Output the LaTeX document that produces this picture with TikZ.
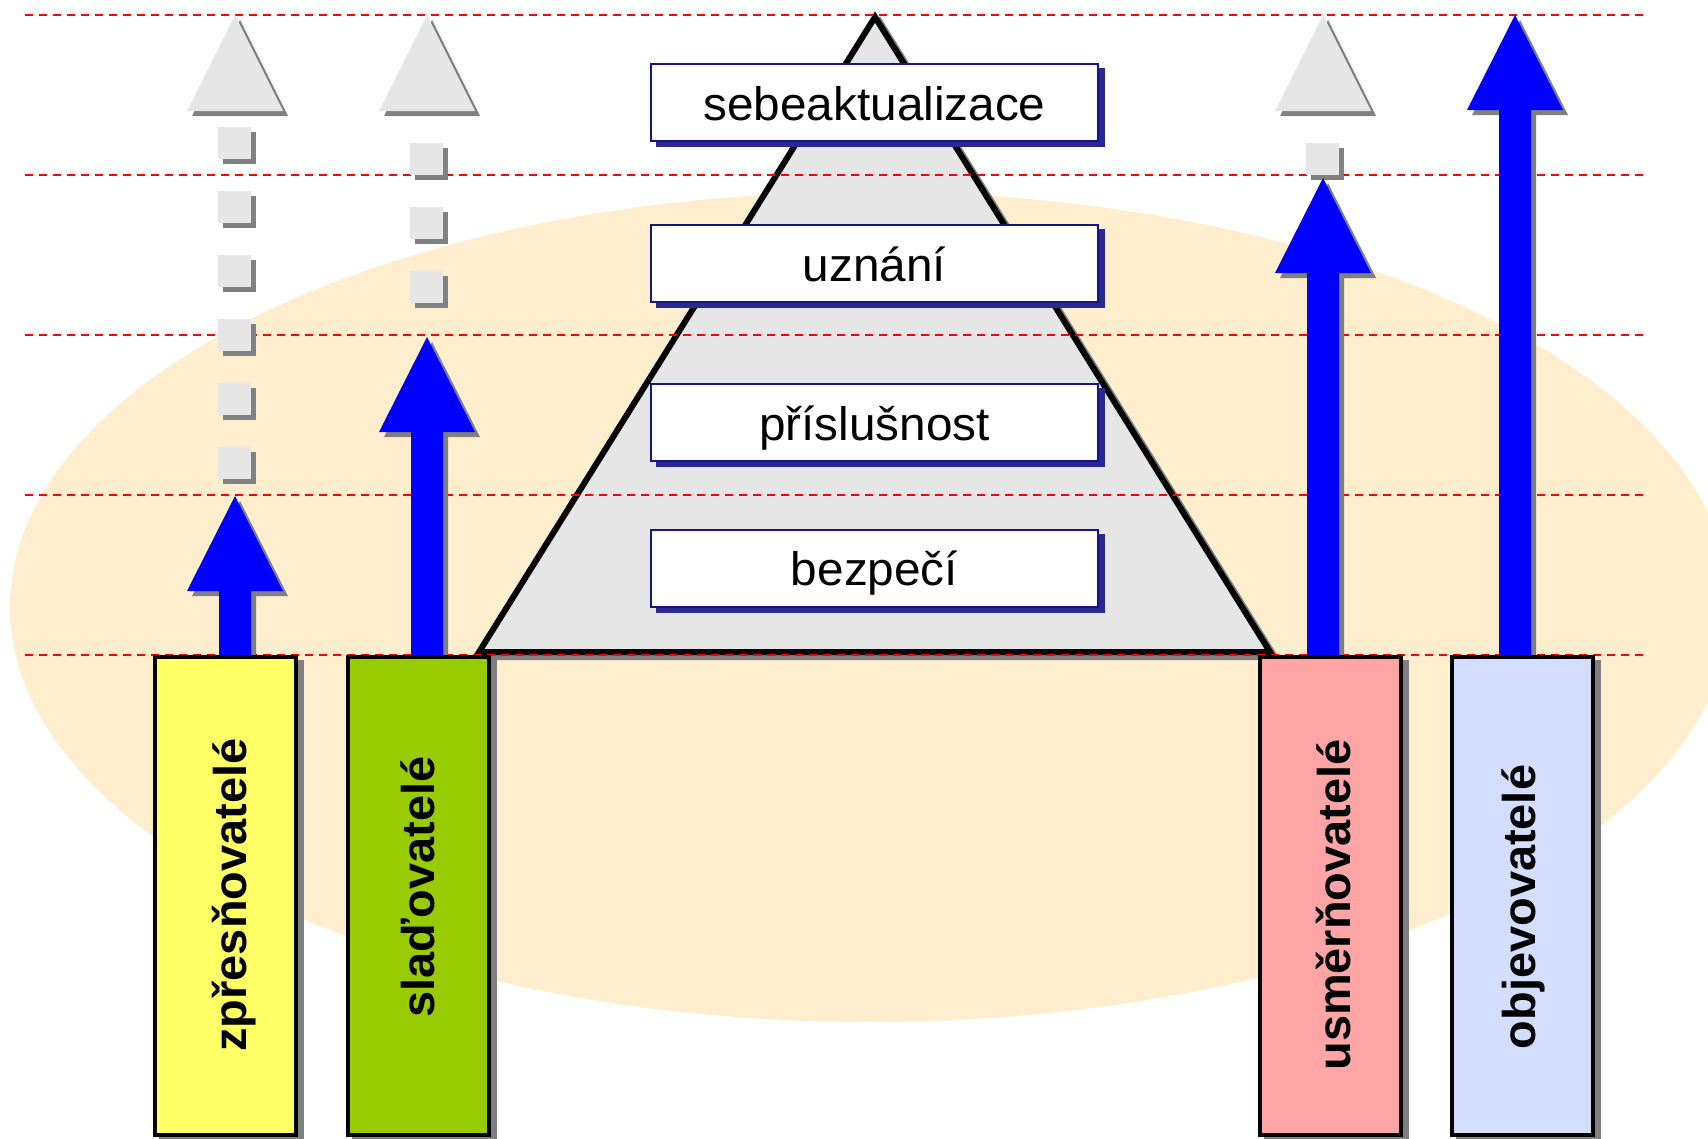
\documentclass[tikz,border=0pt]{standalone}
\usepackage{graphicx}
\usepackage{fontspec}
\setmainfont{Liberation Sans}
\usetikzlibrary{shadows}

\definecolor{ellipsefill}{HTML}{FFEECE}
\definecolor{pyramidfill}{HTML}{E6E6E6}
\definecolor{shadowgray}{HTML}{808080}
\definecolor{ghostfill}{HTML}{E6E6E6}
\definecolor{navyline}{HTML}{14148C}
\definecolor{navyshadow}{HTML}{2A2A8E}
\definecolor{arrowblue}{HTML}{0000FF}
\definecolor{dashred}{HTML}{FF0000}
\definecolor{boxyellow}{HTML}{FFFF66}
\definecolor{boxgreen}{HTML}{99CC00}
\definecolor{boxpink}{HTML}{FFA5A5}
\definecolor{boxblue}{HTML}{D3DEFF}

\tikzset{
  % block arrow pointing up; origin at the tip, #1 = length from tip to foot
  pics/blockarrow/.style={code={\path[pic actions] (0,0) -- (48,95) -- (16,95) -- (16,#1) -- (-16,#1) -- (-16,95) -- (-48,95) -- cycle;}},
  % faded arrow head and the faded steps of its shaft
  pics/ghosthead/.style={code={\path[pic actions] (0,0) -- (48,96) -- (-48,96) -- cycle;}},
  pics/ghoststep/.style={code={\path[pic actions] (-17,0) rectangle (16,32);}},
  % the needs pyramid
  pics/needspyramid/.style={code={\path[pic actions] (875,17) -- (1270,652) -- (479,652) -- cycle;}},
  reddash/.style={draw=dashred, line width=2pt, dash pattern=on 8pt off 6pt},
  levelbox/.style={draw=navyline, line width=2pt, fill=white,
    minimum width=447pt, minimum height=77pt, inner sep=0pt,
    text height=44pt, text depth=9pt,
    font=\fontsize{47}{56}\selectfont,
    drop shadow={shadow xshift=6pt, shadow yshift=-5pt, fill=navyshadow, draw=navyshadow, line width=2pt, opacity=1}},
  groupbox/.style={draw=black, line width=4pt,
    minimum width=141pt, minimum height=478pt, inner sep=0pt,
    drop shadow={shadow xshift=6pt, shadow yshift=-5pt, fill=shadowgray, draw=shadowgray, line width=4pt, opacity=1}},
  grouplabel/.style={rotate=90, inner sep=0pt, font=\bfseries\fontsize{46}{54}\selectfont},
  blueshaft/.style={fill=arrowblue},
  shaftshadow/.style={fill=shadowgray},
  ghost/.style={fill=ghostfill},
}

\begin{document}
\begin{tikzpicture}[x=1pt,y=-1pt]
\useasboundingbox (0,0) rectangle (1708,1138);
\fill[white] (0,0) rectangle (1708,1138);

% background ellipse
\fill[ellipsefill] (870,607) ellipse [x radius=860pt, y radius=415pt];

% pyramid with its shadow
\pic[fill=shadowgray, draw=shadowgray, line width=6pt] at (5,5) {needspyramid};
\pic[fill=pyramidfill, draw=black, line width=6pt] at (0,0) {needspyramid};

% level guide lines
\foreach \yy in {15,175,335,495,655}
  \draw[reddash] (25,\yy) -- (1645,\yy);

% levels of the pyramid
\node[levelbox] (lvl1) at (874.5,102.5) {\scalebox{1.015}[1]{sebeaktualizace}};
\node[levelbox] (lvl2) at (874.5,263.5) {\scalebox{1.015}[1]{uznání}};
\node[levelbox] (lvl3) at (874.5,422.5) {\scalebox{1.015}[1]{příslušnost}};
\node[levelbox] (lvl4) at (874.5,568) {\scalebox{1.015}[1]{bezpečí}};

% faded continuation of the first column
\pic[shaftshadow] at (240,20) {ghosthead};
\pic[ghost] at (235,15) {ghosthead};
\foreach \yy in {127,191,255,319,383,447} {
  \pic[shaftshadow] at (240,\yy+5) {ghoststep};
  \pic[ghost] at (235,\yy) {ghoststep};
}
% faded continuation of the second column
\pic[shaftshadow] at (432,20) {ghosthead};
\pic[ghost] at (427,15) {ghosthead};
\foreach \yy in {143,207,271} {
  \pic[shaftshadow] at (432,\yy+5) {ghoststep};
  \pic[ghost] at (427,\yy) {ghoststep};
}
% faded continuation of the third column
\pic[shaftshadow] at (1328,20) {ghosthead};
\pic[ghost] at (1323,15) {ghosthead};
\pic[shaftshadow] at (1328,148) {ghoststep};
\pic[ghost] at (1323,143) {ghoststep};

% blue arrows
\pic[shaftshadow] at (240,501) {blockarrow=159};
\pic[blueshaft] at (235,496) {blockarrow=159};
\pic[shaftshadow] at (432,342) {blockarrow=318};
\pic[blueshaft] at (427,337) {blockarrow=318};
\pic[shaftshadow] at (1328,183) {blockarrow=477};
\pic[blueshaft] at (1323,178) {blockarrow=477};
\pic[shaftshadow] at (1520,20) {blockarrow=640};
\pic[blueshaft] at (1515,15) {blockarrow=640};

% group boxes
\node[groupbox, fill=boxyellow] (g1) at (225.5,896) {};
\node[groupbox, fill=boxgreen]  (g2) at (418,896) {};
\node[groupbox, fill=boxpink]   (g3) at (1330.5,896) {};
\node[groupbox, fill=boxblue]   (g4) at (1522.5,896) {};

\node[grouplabel] (g1text) at (234,895) {\scalebox{1.02}[1]{zpřesňovatelé}};
\node[grouplabel] (g2text) at (418,887) {\scalebox{1.02}[1]{slaďovatelé}};
\node[grouplabel] (g3text) at (1334,905) {\scalebox{1.02}[1]{usměrňovatelé}};
\node[grouplabel] (g4text) at (1523.5,907) {\scalebox{1.02}[1]{objevovatelé}};
\end{tikzpicture}
\end{document}
